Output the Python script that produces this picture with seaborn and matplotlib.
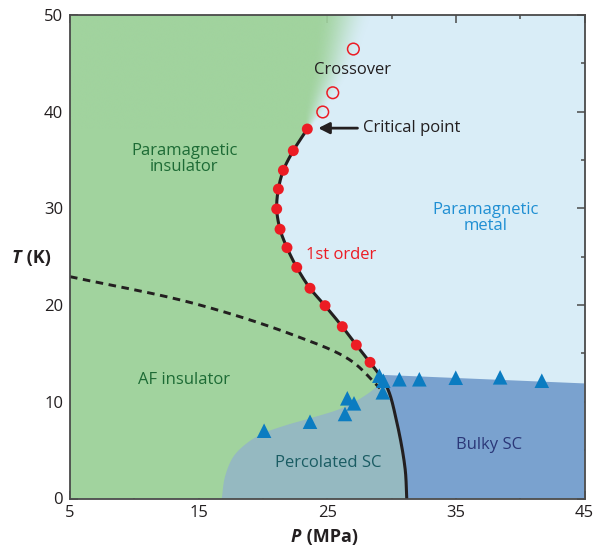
import numpy as np
import pandas as pd
import matplotlib
matplotlib.use("Agg")
import matplotlib.pyplot as plt
import seaborn as sns

# ---------------------------------------------------------------- data
# First-order Mott transition (filled circles), P in MPa, T in K
first_order_P = [23.45, 22.36, 21.59, 21.20, 21.07, 21.33, 21.87, 22.63, 23.66, 24.83, 26.17, 27.26, 28.33]
first_order_T = [38.21, 35.97, 33.94, 32.00, 29.94, 27.84, 25.94, 23.90, 21.74, 19.94, 17.77, 15.87, 14.08]

# Supercritical crossover (open circles)
crossover_P = [24.65, 25.43, 27.03]
crossover_T = [39.97, 41.96, 46.48]

# Superconducting transitions (triangles)
sc_P = [20.09, 23.66, 26.38, 26.56, 27.08, 29.05, 29.36, 29.32, 30.61, 32.16, 34.99, 38.44, 41.68]
sc_T = [7.01, 7.94, 8.74, 10.36, 9.84, 12.70, 12.18, 10.98, 12.33, 12.33, 12.49, 12.53, 12.18]

# Continuation of the first-order line down to T = 0
line_tail_P = [29.63, 30.40, 31.05, 31.18]
line_tail_T = [11.56, 7.94, 3.12, 0.00]

# Antiferromagnetic boundary (dashed)
af_P = [5.00, 14.59, 22.36, 26.77, 29.10]
af_T = [22.94, 20.19, 16.91, 14.32, 11.40]

# Edge of the percolated-SC region
perc_P = [16.80, 17.05, 17.70, 18.74, 20.03, 21.85, 23.66, 26.25, 28.00, 29.45]
perc_T = [0.00, 2.25, 4.32, 5.71, 6.74, 7.60, 8.29, 9.40, 10.70, 12.20]

# Top of the bulk-SC region
bulk_P = [29.0, 45.0]
bulk_T = [12.8, 11.9]

# Crossover band above the critical point: centre and width in P
band_T = [38.21, 39.7, 41.4, 44.8, 50.0]
band_P = [23.45, 23.95, 24.45, 25.5, 26.4]
band_W = [0.4, 1.5, 2.2, 3.4, 4.4]

x_ticks = [5, 15, 25, 35, 45]
y_ticks = [0, 10, 20, 30, 40, 50]

# ---------------------------------------------------------------- style
sns.set_theme(style="ticks")
plt.rcParams["font.family"] = ["Open Sans", "DejaVu Sans"]

GREEN = "#a1d39e"
LIGHT_BLUE = "#d9edf7"
PERC = "#95b9c1"
BULK = "#7aa2cf"
RED = "#ec1c24"
TRI = "#0b7cc1"
SPINE = "#4a4a4a"
INK = "#231f20"

# P and T units have different on-screen sizes; used for curve parameterisation
ASPECT = 12.86 / 9.67


def smooth(px, py, n=40):
    """Centripetal Catmull-Rom curve through the given nodes."""
    pts = np.column_stack([px, py]).astype(float)
    scl = np.array([ASPECT, 1.0])
    p = np.vstack([2 * pts[0] - pts[1], pts, 2 * pts[-1] - pts[-2]])
    segs = []
    for i in range(1, len(p) - 2):
        P0, P1, P2, P3 = p[i - 1], p[i], p[i + 1], p[i + 2]
        d = lambda a, b: max(np.linalg.norm((b - a) * scl) ** 0.5, 1e-6)
        t0 = 0.0
        t1 = t0 + d(P0, P1)
        t2 = t1 + d(P1, P2)
        t3 = t2 + d(P2, P3)
        t = np.linspace(t1, t2, n, endpoint=False)[:, None]
        A1 = (t1 - t) / (t1 - t0) * P0 + (t - t0) / (t1 - t0) * P1
        A2 = (t2 - t) / (t2 - t1) * P1 + (t - t1) / (t2 - t1) * P2
        A3 = (t3 - t) / (t3 - t2) * P2 + (t - t2) / (t3 - t2) * P3
        B1 = (t2 - t) / (t2 - t0) * A1 + (t - t0) / (t2 - t0) * A2
        B2 = (t3 - t) / (t3 - t1) * A2 + (t - t1) / (t3 - t1) * A3
        segs.append((t2 - t) / (t2 - t1) * B1 + (t - t1) / (t2 - t1) * B2)
    segs.append(pts[-1:])
    return np.vstack(segs)


fig = plt.figure(figsize=(5.93, 5.47), dpi=100)
ax = fig.add_axes([70 / 593, 1 - 498.5 / 547, 514.5 / 593, 483.5 / 547])
ax.set_facecolor(LIGHT_BLUE)

# transition line from the critical point down to T = 0
mott = smooth(first_order_P + line_tail_P, first_order_T + line_tail_T)

# ---- insulating (green) region
band_edge_T = np.linspace(band_T[0], band_T[-1], 40)
band_edge_P = np.interp(band_edge_T, band_T, band_P) - np.interp(band_edge_T, band_T, band_W) / 2
green_poly = np.vstack([[[5, 0]], mott[::-1], np.column_stack([band_edge_P, band_edge_T]), [[5, 50]]])
ax.fill(green_poly[:, 0], green_poly[:, 1], color=GREEN, lw=0, zorder=1)

# soft crossover above the critical point
gP = np.linspace(5, 45, 900)
gT = np.linspace(band_T[0], 50, 300)
PP, TT = np.meshgrid(gP, gT)
cen = np.interp(TT, band_T, band_P)
wid = np.interp(TT, band_T, band_W)
s = np.clip((cen + wid / 2 - PP) / wid, 0, 1)
s = s * s * (3 - 2 * s)
rgba = np.zeros(PP.shape + (4,))
rgba[..., :3] = matplotlib.colors.to_rgb(GREEN)
rgba[..., 3] = s
ax.imshow(rgba, extent=[5, 45, band_T[0], 50], origin="lower", aspect="auto",
          interpolation="bilinear", zorder=1.5)

# ---- bulk SC region
top_bulk = np.interp(mott[:, 0], bulk_P, bulk_T)
below = mott[mott[:, 1] <= top_bulk]
bulk_poly = np.vstack([below, [[45, 0], [45, bulk_T[-1]],
                               [below[0, 0], np.interp(below[0, 0], bulk_P, bulk_T)]]])
ax.fill(bulk_poly[:, 0], bulk_poly[:, 1], color=BULK, lw=0, zorder=2)

# ---- percolated SC region
perc = smooth(perc_P, perc_T)
mott_low = mott[mott[:, 1] <= perc_T[-1]]
perc_poly = np.vstack([perc, mott_low])
ax.fill(perc_poly[:, 0], perc_poly[:, 1], color=PERC, lw=0, zorder=2)

# ---- lines
af = smooth(af_P, af_T)
sns.lineplot(x=af[:, 0], y=af[:, 1], sort=False, estimator=None, ax=ax,
             color=INK, lw=2.1, zorder=3)
ax.lines[-1].set_linestyle((0, (2.6, 1.9)))
sns.lineplot(x=mott[:, 0], y=mott[:, 1], sort=False, estimator=None, ax=ax,
             color=INK, lw=2.2, zorder=4)

# ---- markers
sns.scatterplot(x=first_order_P, y=first_order_T, ax=ax, color=RED, s=62,
                edgecolor="none", zorder=5)
sns.scatterplot(x=crossover_P, y=crossover_T, ax=ax, facecolor="none",
                edgecolor=RED, s=70, linewidth=1.1, zorder=5)
sns.scatterplot(x=sc_P, y=sc_T, ax=ax, color=TRI, marker="^", s=110,
                edgecolor="none", zorder=5)

# ---- region labels
fs = 12
ax.text(13.9, 35.1, "Paramagnetic\ninsulator", color="#1d6b35", fontsize=fs,
        ha="center", va="center", linespacing=1.0, zorder=6)
ax.text(13.9, 12.25, "AF insulator", color="#1d6b35", fontsize=fs,
        ha="center", va="center", zorder=6)
ax.text(37.3, 29.0, "Paramagnetic\nmetal", color="#1f8fd3", fontsize=fs,
        ha="center", va="center", linespacing=1.0, zorder=6)
ax.text(26.1, 25.2, "1st order", color=RED, fontsize=fs,
        ha="center", va="center", zorder=6)
ax.text(27.0, 44.3, "Crossover", color=INK, fontsize=fs,
        ha="center", va="center", zorder=6)
ax.text(27.8, 38.3, "Critical point", color=INK, fontsize=fs,
        ha="left", va="center", zorder=6)
ax.text(25.1, 3.64, "Percolated SC", color="#1a5c63", fontsize=fs,
        ha="center", va="center", zorder=6)
ax.text(37.6, 5.5, "Bulky SC", color="#2b3778", fontsize=fs,
        ha="center", va="center", zorder=6)
ax.annotate("", xy=(24.3, 38.3), xytext=(27.35, 38.3),
            arrowprops=dict(arrowstyle="-|>,head_length=0.55,head_width=0.28",
                            color=INK, lw=2.0, shrinkA=0, shrinkB=0), zorder=6)

# ---- axes
ax.set_xlim(5, 45)
ax.set_ylim(0, 50)
ax.set_xticks(x_ticks)
ax.set_xticks([10, 20, 30, 40], minor=True)
ax.set_yticks(y_ticks)
ax.set_yticks([5, 15, 25, 35, 45], minor=True)
ax.tick_params(which="both", direction="in", top=True, right=True,
               color=SPINE, width=1.1, labelsize=12, labelcolor=INK)
ax.tick_params(which="major", length=6, pad=5)
ax.tick_params(which="minor", length=3.2)
for sp in ax.spines.values():
    sp.set_color(SPINE)
    sp.set_linewidth(1.3)
    sp.set_zorder(7)
ax.set_xlabel("")
ax.set_ylabel("")

# axis titles: italic bold symbol followed by bold unit
ty = fig.text(12 / 593, 1 - 258 / 547, "T", fontsize=13, fontweight="bold",
              fontstyle="italic", color=INK, ha="left", va="center")
ax.annotate(" (K)", xy=(1, 0), xycoords=ty, fontsize=13, fontweight="bold",
            color=INK, ha="left", va="bottom")
tx = fig.text(291 / 593, 1 - 537 / 547, "P", fontsize=13, fontweight="bold",
              fontstyle="italic", color=INK, ha="left", va="center")
ax.annotate(" (MPa)", xy=(1, 0), xycoords=tx, fontsize=13, fontweight="bold",
            color=INK, ha="left", va="bottom")

fig.savefig("out.png", dpi=100)
